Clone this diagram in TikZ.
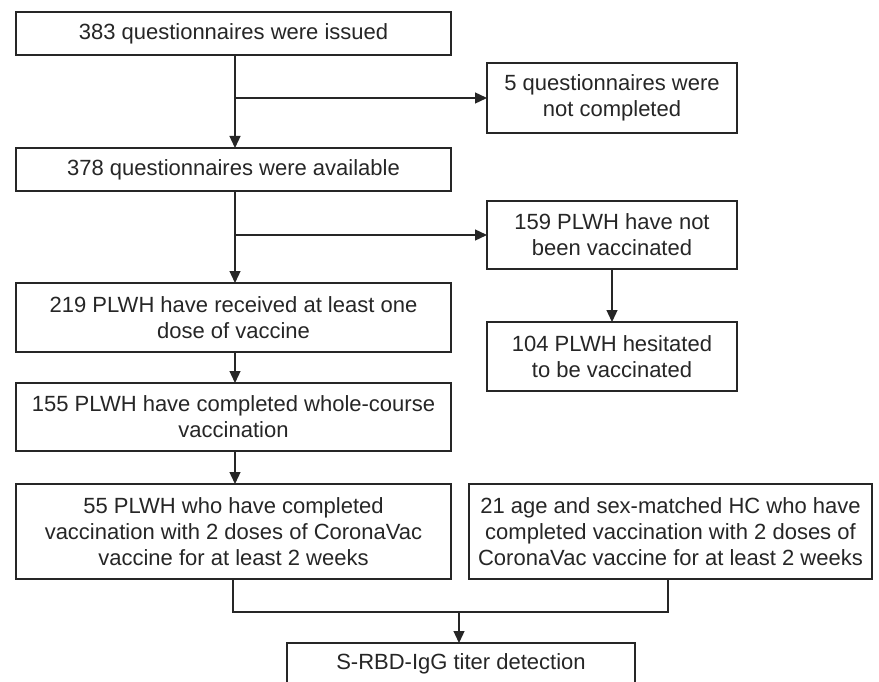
\documentclass[tikz,border=0pt]{standalone}
\usepackage{fontspec}
\setmainfont{Liberation Sans}
\usetikzlibrary{arrows.meta}
\begin{document}
\begin{tikzpicture}[x=1pt,y=-1pt,
  box/.style={draw=black!85, line width=1.3pt, inner sep=0pt, outer sep=0pt, align=center,
    font=\fontsize{22}{26}\selectfont, text=black!85},
  arr/.style={draw=black!85, line width=1.3pt, -{Triangle[length=12pt,width=11pt]}},
  ln/.style={draw=black!85, line width=1.3pt}]
\clip (0,0) rectangle (879,682);
\fill[white] (0,0) rectangle (879,682);
\node[box, minimum width=435pt, minimum height=43pt] (b1) at (233.5,33.5) {383 questionnaires were issued};
\node[box, minimum width=250pt, minimum height=70pt] (b2) at (612,98) {5 questionnaires were\\not completed};
\node[box, minimum width=435pt, minimum height=43pt] (b3) at (233.5,169.5) {378 questionnaires were available};
\node[box, minimum width=250pt, minimum height=68pt] (b4) at (612,235) {159 PLWH have not\\been vaccinated};
\node[box, minimum width=435pt, minimum height=69pt] (b5) at (233.5,317.5) {219 PLWH have received at least one\\dose of vaccine};
\node[box, minimum width=250pt, minimum height=69pt] (b6) at (612,356.5) {104 PLWH hesitated\\to be vaccinated};
\node[box, minimum width=435pt, minimum height=68pt] (b7) at (233.5,417) {155 PLWH have completed whole-course\\vaccination};
\node[box, minimum width=435pt, minimum height=95pt] (b8) at (233.5,531.5) {55 PLWH who have completed\\vaccination with 2 doses of CoronaVac\\vaccine for at least 2 weeks};
\node[box, minimum width=403pt, minimum height=95pt] (b9) at (670.5,531.5) {21 age and sex-matched HC who have\\completed vaccination with 2 doses of\\CoronaVac vaccine for at least 2 weeks};
\node[box, minimum width=348pt, minimum height=42pt, anchor=north] (b10) at (461,643) {S-RBD-IgG titer detection};
\coordinate (j1) at (235,98);
\coordinate (j2) at (235,235);
\coordinate (m) at (459,612);
\draw[arr] (b1.south -| j1) -- (b3.north -| j1);
\draw[arr] (j1) -- (b2.west);
\draw[arr] (b3.south -| j2) -- (b5.north -| j2);
\draw[arr] (j2) -- (b4.west);
\draw[arr] (b4.south) -- (b6.north);
\draw[arr] (b5.south -| j2) -- (b7.north -| j2);
\draw[arr] (b7.south -| j2) -- (b8.north -| j2);
\draw[ln] ([xshift=-0.5pt]b8.south) -- ([xshift=-0.5pt]b8.south |- m) -- ([xshift=-2.5pt]b9.south |- m) -- ([xshift=-2.5pt]b9.south);
\draw[arr] (m) -- (b10.north -| m);
\end{tikzpicture}
\end{document}
